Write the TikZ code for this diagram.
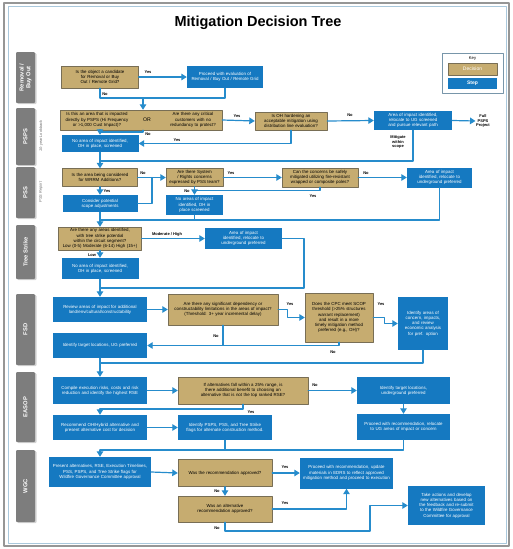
\documentclass[tikz,border=0pt]{standalone}
\usepackage{fontspec}
\setmainfont{Liberation Sans}
\usetikzlibrary{arrows.meta,shadows}
\hyphenpenalty=10000
\exhyphenpenalty=10000

\begin{document}
\begin{tikzpicture}[line cap=round,line join=round,>={Triangle[length=5.5pt,width=6.5pt]},x=1pt,y=-1pt,
  dec/.style={draw=decline,fill=dectan,align=center,inner sep=1pt,font=\fontsize{4.4}{5.2}\selectfont},
  stp/.style={fill=stepblue,text=white,align=center,inner sep=1pt,font=\fontsize{4.4}{5.2}\selectfont},
  lane/.style={fill=lanegray,text=white,align=center,rotate=90,rounded corners=1pt,inner sep=0pt,minimum height=19,drop shadow={opacity=0.35,shadow xshift=1.5pt,shadow yshift=-1pt},font=\fontsize{5.8}{6.6}\selectfont\bfseries},
  side/.style={text=sidegray,rotate=90,font=\fontsize{3.9}{4.5}\selectfont\itshape},
  con/.style={draw=lineblue,line width=1.2pt},
  lbl/.style={font=\fontsize{4}{4.6}\selectfont\bfseries,inner sep=0.5pt}]
\definecolor{dectan}{RGB}{198,172,112}
\definecolor{decline}{RGB}{120,110,85}
\definecolor{stepblue}{RGB}{21,121,193}
\definecolor{lineblue}{RGB}{38,140,204}
\definecolor{lanegray}{RGB}{125,125,125}
\definecolor{sidegray}{RGB}{110,110,110}
\definecolor{framegray}{RGB}{150,150,150}
\definecolor{frameblue}{RGB}{170,200,220}
\definecolor{keyline}{RGB}{120,150,170}
\useasboundingbox (0,0) rectangle (513,549);
\draw[color=framegray,line width=2pt] (4,3) rectangle (509,546);
\draw[color=frameblue,line width=0.6pt] (8,6) rectangle (506,543);
\node[font=\fontsize{14.5}{16}\selectfont\bfseries] (title) at (258,23) {Mitigation Decision Tree};

\node[draw=keyline,line width=0.8pt,minimum width=61,minimum height=40] (key) at (472.5,73) {};
\node[lbl,font=\fontsize{4.2}{5}\selectfont] (keyt) at (472.5,58) {Key};
\node[dec,text=white,minimum width=49,minimum height=12,font=\fontsize{5}{6}\selectfont] (keyd) at (472.5,69) {Decision};
\node[stp,minimum width=49,minimum height=11,font=\fontsize{5}{6}\selectfont\bfseries] (keys) at (472.5,83.5) {Step};

\node[lane,minimum width=51] (L1) at (25.5,77.5) {Removal /\\Buy Out};
\node[lane,minimum width=57] (L2) at (25.5,136.5) {PSPS};
\node[lane,minimum width=51] (L3) at (25.5,192.5) {PSS};
\node[lane,minimum width=54] (L4) at (25.5,252) {Tree Strike};
\node[lane,minimum width=71] (L5) at (25.5,329.5) {FSD};
\node[lane,minimum width=70] (L6) at (25.5,407) {EASOP};
\node[lane,minimum width=72] (L7) at (25.5,486) {WGC};
\node[side] (lb1) at (41,136) {10-year Lookback};
\node[side] (lb2) at (41,192) {PSS Report};

\node[dec,minimum width=77,minimum height=22,text width=70] (D1) at (100,77) {Is the object a candidate for Removal or Buy Out / Remote Grid?};
\node[stp,minimum width=76,minimum height=22,text width=70] (S1) at (225,77) {Proceed with evaluation of Removal / Buy Out / Remote Grid};

\node[dec,minimum width=162,minimum height=20] (D2) at (141,120) {};
\node[font=\fontsize{4.4}{5.2}\selectfont,text width=70,align=center,inner sep=0pt] (D2a) at (97,120) {Is this an area that is impacted directly by PSPS (Hi Frequency or >1,000 Cust Impact)?};
\node[font=\fontsize{5.2}{6}\selectfont,inner sep=0pt] (D2or) at (147,120) {OR};
\node[font=\fontsize{4.4}{5.2}\selectfont,text width=54,align=center,inner sep=0pt] (D2b) at (193,120) {Are there any critical customers with no redundancy to protect?};
\node[dec,minimum width=72,minimum height=18,text width=68] (D3) at (291,121) {Is OH hardening an acceptable mitigation using distribution line evaluation?};
\node[stp,minimum width=78,minimum height=19,text width=72] (S3) at (413,120.5) {Area of impact identified, relocate to UG screened and pursue relevant path};
\node[lbl,align=center] (fp) at (483,121) {Full\\PSPS\\Project};
\node[lbl,align=center] (ms) at (398,142) {Mitigate\\within\\scope};
\node[stp,minimum width=77,minimum height=17,text width=66] (S2) at (100,143.5) {No area of impact identified, OH in place, screened};

\node[dec,minimum width=75,minimum height=18,text width=68] (D4) at (100,177.5) {Is the area being considered for WRRM Additions?};
\node[stp,minimum width=75,minimum height=17,text width=60] (S4) at (100,203.5) {Consider potential scope adjustments};
\node[dec,minimum width=57,minimum height=18,text width=54] (D5) at (194.5,177.5) {Are there System / Rights concerns expressed by PSS team?};
\node[stp,minimum width=57,minimum height=20,text width=54] (S5) at (194.5,205) {No areas of impact identified, OH in place screened};
\node[dec,minimum width=76,minimum height=19,text width=72] (D6) at (320,177.5) {Can the concerns be safely mitigated utilizing fire-resistant wrapped or composite poles?};
\node[stp,minimum width=65,minimum height=20,text width=62] (S6) at (439.5,177.5) {Area of impact identified, relocate to underground preferred};

\node[dec,minimum width=83,minimum height=23,text width=81] (D7) at (100,238.5) {Are there any areas identified, with tree strike potential within the circuit segment?\\Low (0-5) Moderate (6-14) High (15+)};
\node[stp,minimum width=77,minimum height=21,text width=66] (S7b) at (243.5,238.5) {Area of impact identified, relocate to underground preferred};
\node[stp,minimum width=77,minimum height=21,text width=68] (S7a) at (100,268.5) {No area of impact identified, OH in place, screened};

\node[stp,minimum width=94,minimum height=25,text width=86] (S8) at (100,309.5) {Review areas of impact for additional land/env/cultural/constructability};
\node[dec,minimum width=110,minimum height=31,text width=104] (D8) at (223,309.5) {Are there any significant dependency or constructability limitations in the areas of impact?\\(Threshold: 3+ year incremental delay)};
\node[dec,minimum width=68,minimum height=49,text width=62] (D9) at (339,317.5) {Does the CPC meet SCOP threshold (>25\% structures warrant replacement) and result in a more timely mitigation method preferred (e.g., OH)?};
\node[stp,minimum width=50,minimum height=53,text width=46] (S9) at (423,323.5) {Identify areas of concern, impacts, and review economic analysis for pref. option};
\node[stp,minimum width=94,minimum height=25,text width=76] (S10) at (100,345.5) {Identify target locations, UG preferred};

\node[stp,minimum width=94,minimum height=27,text width=86] (S11) at (100,390.5) {Compile execution risks, costs and risk reduction and identify the highest RSE};
\node[dec,minimum width=130,minimum height=27,text width=120] (D11) at (243,390.5) {If alternatives fall within a 25\% range, is there additional benefit to choosing an alternative that is not the top ranked RSE?};
\node[stp,minimum width=93,minimum height=27,text width=75] (S13) at (403.5,390.5) {Identify target locations, underground preferred};
\node[stp,minimum width=93,minimum height=26,text width=87] (S14) at (403.5,427) {Proceed with recommendation, relocate to UG areas of impact or concern};
\node[stp,minimum width=94,minimum height=25,text width=88] (S12) at (100,427.5) {Recommend OH/Hybrid alternative and present alternative cost for decision};
\node[stp,minimum width=94,minimum height=25,text width=84] (S12b) at (225,427.5) {Identify PSPS, PSS, and Tree Strike flags for alternate construction method.};

\node[stp,minimum width=102,minimum height=30,text width=96] (S15) at (100,472) {Present alternatives, RSE, Execution Timelines, PSS, PSPS, and Tree Strike flags for Wildfire Governance Committee approval};
\node[dec,minimum width=94,minimum height=27,text width=80] (D15) at (225,473) {Was the recommendation approved?};
\node[stp,minimum width=93,minimum height=31,text width=88] (S16) at (346.5,473) {Proceed with recommendation, update materials in EDRS to reflect approved mitigation method and proceed to execution};
\node[dec,minimum width=94,minimum height=26,text width=88] (D16) at (225,509) {Was an alternative recommendation approved?};
\node[stp,minimum width=77,minimum height=39,text width=70] (S17) at (446.5,505.5) {Take actions and develop new alternatives based on the feedback and re-submit to the Wildfire Governance Committee for approval};

\coordinate (j1) at (143,98);
\coordinate (j2) at (143,132);
\coordinate (j3) at (100,161);
\coordinate (j4) at (152,177.5);
\coordinate (j5) at (194.5,190.5);
\coordinate (j6) at (100,220);
\coordinate (j7) at (304,288);
\coordinate (j8) at (100,363);
\coordinate (j9) at (100,409);
\coordinate (j10) at (100,450);
\coordinate (j11) at (370,531);

\draw[con,->] (D1.east) -- (S1.west);
\draw[con] (D1.south) |- (j1);
\draw[con] (S1.south) |- (j1);
\draw[con,->] (j1) -- (j1 |- D2.north);
\draw[con,->] (D2.east) -- (D3.west);
\draw[con,->] (j2 |- D2.south) -- (j2) -| (S2.north);
\draw[con,->] (D3.east) -- (S3.west);
\draw[con,->] (D3.south) |- (S2.east);
\draw[con,->] (S3.east) -- (fp.west);
\draw[con] (S3.south) |- (j3);
\draw[con,->] (S2.south) -- (D4.north);
\draw[con,->] (D4.south) -- (S4.north);
\draw[con,->] (D4.east) -- (D5.west);
\draw[con] (S4.east) -| (j4);
\draw[con,->] (D5.south) -- (S5.north);
\draw[con,->] (D5.east) -- (D6.west);
\draw[con,->] (D6.east) -- (S6.west);
\draw[con] (D6.south) |- (j5);
\draw[con] (S6.south) |- (j6);
\draw[con] (S5.south) -- (S5.south |- j6);
\draw[con,->] (S4.south) -- (D7.north);
\draw[con,->] (D7.east) -- (S7b.west);
\draw[con,->] (D7.south) -- (S7a.north);
\draw[con] (S7b.east) -| (j7) -- (S7a.south |- j7);
\draw[con,->] (S7a.south) -- (S8.north);
\draw[con,->] (S8.east) -- (D8.west);
\draw[con,->] (D8.east) -- ++(9,0) |- (D9.west);
\draw[con,->] (D9.east) -- ++(11,0) |- (S9.west);
\draw[con,->] (D8.south) |- (S10.east);
\draw[con] (D9.south) |- (D8.south |- S10.east);
\draw[con] (S9.south) |- (j8);
\draw[con,->] (S10.south) -- (S11.north);
\draw[con,->] (S11.east) -- (D11.west);
\draw[con,->] (D11.east) -- (S13.west);
\draw[con,->] (S13.south) -- (S14.north);
\draw[con,->] (D11.south) |- (j9) -- (S12.north);
\draw[con,->] (S12.east) -- (S12b.west);
\draw[con] (S14.south) |- (j10);
\draw[con] (S12b.south) -- (S12b.south |- j10);
\draw[con,->] (j10) -- (S15.north);
\draw[con,->] (S15.east) -- (D15.west);
\draw[con,->] (D15.east) -- (S16.west);
\draw[con,->] (D15.south) -- (D16.north);
\draw[con,->] (D16.east) -| (S16.south);
\draw[con,->] (D16.south) |- (j11) |- (S17.west);

\node[lbl] (y1) at (148,72) {Yes};
\node[lbl] (n1) at (105,94) {No};
\node[lbl] (y2) at (237,116) {Yes};
\node[lbl] (n2) at (148,134) {No};
\node[lbl] (n3) at (350,115) {No};
\node[lbl] (y3) at (177,140) {Yes};
\node[lbl] (y4) at (107,191) {Yes};
\node[lbl] (n4) at (143,173) {No};
\node[lbl] (n5) at (187,191) {No};
\node[lbl] (y5) at (231,173) {Yes};
\node[lbl] (n6) at (366,173) {No};
\node[lbl] (y6) at (313,196) {Yes};
\node[lbl] (mh) at (167,234) {Moderate / High};
\node[lbl] (lo) at (92,255) {Low};
\node[lbl] (y8) at (290,304) {Yes};
\node[lbl] (y9) at (381,304) {Yes};
\node[lbl] (n8) at (216,336) {No};
\node[lbl] (n9) at (333,352) {No};
\node[lbl] (n11) at (315,385) {No};
\node[lbl] (y11) at (251,412) {Yes};
\node[lbl] (y15) at (285,467) {Yes};
\node[lbl] (n15) at (217,491) {No};
\node[lbl] (y16) at (285,503) {Yes};
\node[lbl] (n16) at (217,528) {No};
\end{tikzpicture}
\end{document}
